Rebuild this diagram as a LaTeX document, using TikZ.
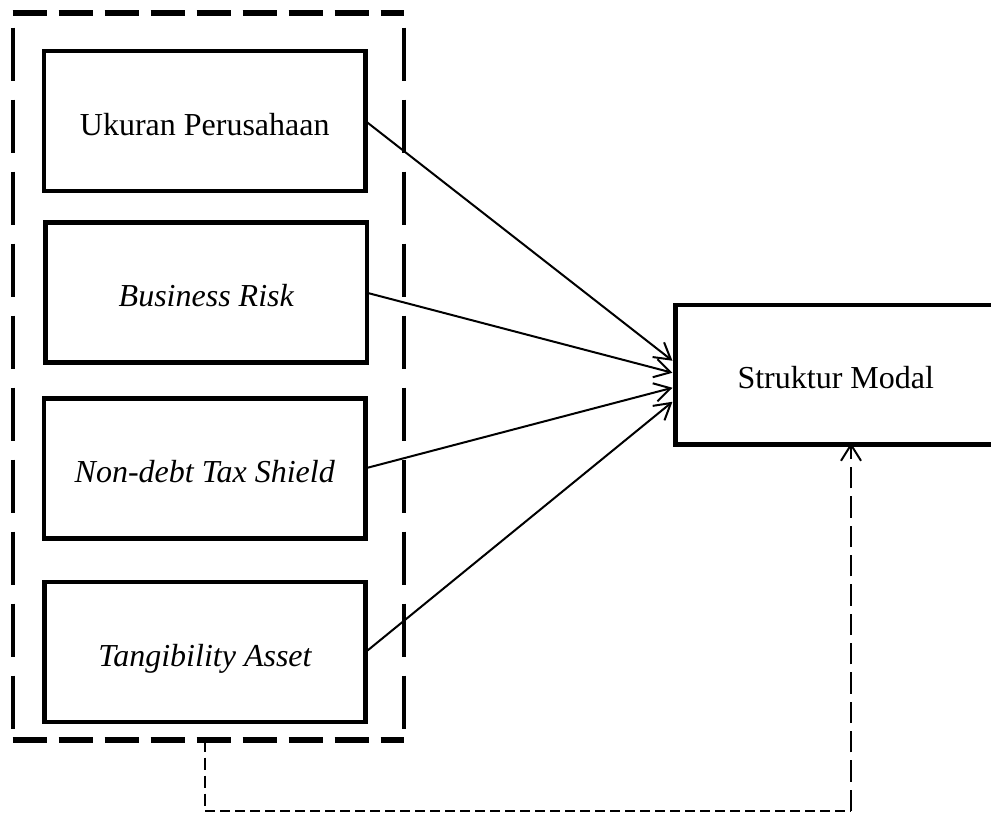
\documentclass[tikz,border=0pt]{standalone}
\usepackage{fontspec}
\setmainfont{Liberation Serif}
\usetikzlibrary{arrows.meta}
\begin{document}
\begin{tikzpicture}[x=0.75pt,y=-0.75pt,
  varbox/.style={draw, line width=3.5pt, minimum width=241pt, minimum height=105pt,
    inner sep=0pt, outer sep=0pt, text height=21pt, text depth=0pt, font=\fontsize{24}{28}\selectfont},
  depbox/.style={draw, line width=3.5pt, minimum width=240.4pt, minimum height=104.6pt,
    inner sep=0pt, outer sep=0pt, text height=20pt, text depth=0pt, font=\fontsize{24}{28}\selectfont},
  grpbox/.style={draw=none, minimum width=293.6pt, minimum height=544.9pt, inner sep=0pt, outer sep=0pt},
  grptb/.style={line width=4.5pt, dash pattern=on 26pt off 8.5pt},
  grpside/.style={line width=3pt, dash pattern=on 40pt off 14pt, dash phase=-11pt},
  link/.style={line width=1.5pt, -{Straight Barb[length=12pt,width=14pt,line width=1.5pt]}},
  back/.style={line width=1.5pt},
  backhead/.style={-{Straight Barb[length=12pt,width=15pt,line width=1.5pt]}}
]
\useasboundingbox (0,0) rectangle (991,814);

% group frame
\node[grpbox] (grp) at (208.25,376.25) {};
\draw[grptb] (grp.north west) -- (grp.north east);
\draw[grptb] (grp.south west) -- (grp.south east);
\draw[grpside] (grp.north west) -- (grp.south west);
\draw[grpside] (grp.north east) -- (grp.south east);

% independent variables
\node[varbox] (b1) at (204.75,121) {Ukuran Perusahaan};
\node[varbox] (b2) at (206.25,292.75) {\itshape Business Risk};
\node[varbox] (b3) at (204.75,468.3) {\itshape Non-debt Tax Shield};
\node[varbox] (b4) at (205,652) {\itshape Tangibility Asset};

% dependent variable
\node[depbox] (sm) at (835.75,374.75) {Struktur Modal};

% arrow tips on the left side of Struktur Modal
\coordinate (t1) at ([shift={(-3,-14)}]sm.west);
\coordinate (t2) at ([shift={(-3,-2)}]sm.west);
\coordinate (t3) at ([shift={(-3,13)}]sm.west);
\coordinate (t4) at ([shift={(-3,27)}]sm.west);

\draw[link] (b1.east) -- (t1);
\draw[link] (b2.east) -- (t2);
\draw[link] (b3.east) -- (t3);
\draw[link] (b4.east) -- (t4);

% dashed feedback connector
\coordinate (c1) at (205,811);
\coordinate (c2) at (851,811);
\draw[back, dash pattern=on 9pt off 4.5pt] (grp.south -| c1) -- (c1);
\draw[back, dash pattern=on 7.5pt off 3.75pt] (c1) -- (c2);
\draw[back, backhead, dash pattern=on 16pt off 6pt] (c2) -- ([yshift=1.2pt]c2 |- sm.south);
\end{tikzpicture}
\end{document}
